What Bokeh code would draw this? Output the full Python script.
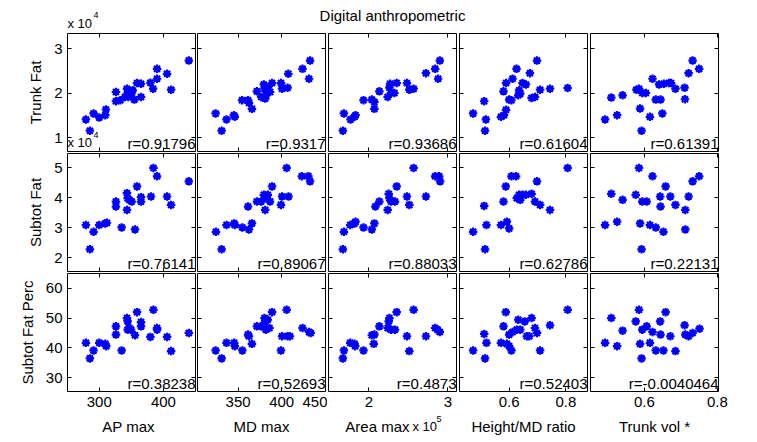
from bokeh.plotting import figure
from bokeh.models import (Range1d, LinearAxis, FixedTicker, CustomJSTickFormatter,
                          Label, ColumnDataSource)
from bokeh.layouts import gridplot, column
from bokeh.embed import file_html
from bokeh.resources import INLINE

# ---------------- data ----------------
title_text = "Digital anthropometric"
x_names = ["AP max", "MD max", "Area max", "Height/MD ratio", "Trunk vol *"]
y_names = ["Trunk Fat", "Subtot Fat", "Subtot Fat Perc"]
r_values = [[0.91796, 0.9317, 0.93686, 0.61604, 0.61391],
            [0.76141, 0.89067, 0.88033, 0.62786, 0.22131],
            [0.38238, 0.52693, 0.4873, 0.52403, -0.0040464]]
x_ticks = [[300, 400], [350, 400, 450], [200000, 300000], [0.6, 0.8], [0.6, 0.8]]
y_ticks = [[10000, 20000, 30000], [20000, 30000, 40000, 50000], [30, 40, 50, 60]]
x_tick_scale = [1, 1, 1e5, 1, 1]
y_tick_scale = [1e4, 1e4, 1]
x_limits = [(250.5, 450.0), (303.4, 450.3), (149000, 311000), (0.425, 0.876), (0.452, 0.803)]
y_limits = [(6860, 33420), (15500, 54800), (25.3, 65.0)]

# row 1: Trunk Fat
x_r1c1 = [279.2, 285.4, 291.1, 300.0, 309.4, 310.4, 326.0, 326.0, 332.8, 340.1, 343.2, 344.3, 345.3,
          349.5, 352.1, 354.7, 358.9, 365.1, 365.1, 379.7, 383.9, 390.1, 390.1, 405.7, 412.0, 439.6]
y_r1c1 = [14080, 11550, 15420, 14520, 15040, 16310, 20250, 18170, 18390, 19140, 21000, 20030, 19140,
          19730, 20620, 18540, 22260, 22110, 19140, 22340, 21000, 25460, 23230, 24350, 20770, 27320]
x_r1c2 = [324.2, 331.1, 336.7, 345.1, 346.2, 354.5, 361.4, 362.5, 365.9, 371.6, 376.5, 379.5, 380.3,
          381.1, 381.8, 384.1, 386.7, 389.0, 399.2, 400.4, 406.8, 407.6, 423.9, 431.4, 432.6]
y_r1c2 = [15420, 11550, 14080, 15040, 14670, 18390, 18390, 17800, 16460, 20400, 19140, 21960, 21000,
          18770, 19510, 21220, 20250, 22260, 22260, 21000, 21220, 24350, 25460, 23230, 27320]
x_r1c3 = [167200, 168500, 176900, 181900, 183200, 193300, 203800, 207100, 207100, 213400, 223900, 226100,
          226900, 228200, 232400, 235300, 248300, 251300, 256700, 272300, 284000, 287800, 289900]
y_r1c3 = [11550, 15420, 14080, 14670, 15040, 18390, 18540, 18020, 16460, 20400, 19140, 21220,
          22110, 20030, 20030, 22260, 22260, 20770, 21000, 24490, 25460, 23230, 27320]
x_r1c4 = [0.473, 0.512, 0.518, 0.515, 0.571, 0.582, 0.589, 0.580, 0.589, 0.600, 0.608, 0.612, 0.626,
          0.632, 0.635, 0.639, 0.647, 0.659, 0.673, 0.679, 0.691, 0.698, 0.709, 0.744, 0.806]
y_r1c4 = [15420, 18170, 14080, 11550, 14670, 15040, 16250, 20400, 22260, 18540, 18390, 23230, 25460,
          19510, 20620, 19880, 22260, 21960, 24490, 18910, 19140, 27320, 20770, 21000, 21150]
x_r1c5 = [0.492, 0.509, 0.525, 0.540, 0.578, 0.585, 0.588, 0.594, 0.604, 0.592, 0.615, 0.622, 0.631,
          0.640, 0.644, 0.649, 0.653, 0.667, 0.673, 0.685, 0.710, 0.711, 0.721, 0.732, 0.750]
y_r1c5 = [14080, 18990, 15040, 19510, 20770, 21000, 16530, 20030, 20030, 11550, 14670, 23230, 18540,
          21960, 18540, 15420, 22110, 22260, 22260, 21000, 21220, 18620, 24490, 27320, 25460]

# row 2: Subtot Fat
x_r2c1 = [279.2, 285.4, 291.1, 300.0, 309.4, 312.0, 326.0, 326.0, 334.9, 343.2, 344.3, 343.2,
          346.9, 350.5, 355.7, 358.9, 365.1, 365.1, 380.7, 384.4, 390.1, 405.7, 412.0, 439.6]
y_r2c1 = [30960, 22900, 28720, 30960, 31520, 31740, 38800, 37120, 30180, 41600, 39920, 36000,
          39360, 38800, 29510, 43840, 40260, 38800, 40480, 50000, 47200, 40480, 37680, 45520]
x_r2c2 = [324.6, 331.1, 336.7, 345.5, 346.2, 354.9, 361.4, 362.5, 365.9, 371.6, 376.5, 379.5,
          381.1, 381.8, 384.1, 386.7, 389.0, 399.2, 400.4, 405.7, 407.9, 423.1, 430.7, 432.6]
y_r2c2 = [28720, 22900, 30960, 31520, 30960, 30180, 37120, 29510, 31520, 38800, 38800, 41040,
          36000, 39920, 41040, 38800, 43840, 37680, 40480, 50000, 40480, 47200, 47200, 45520]
x_r2c3 = [167200, 168500, 176500, 181900, 183200, 193300, 203800, 207100, 208400, 213400, 223900, 225200,
          226100, 228200, 233200, 235300, 248300, 251300, 256700, 272300, 284000, 289100, 290300]
y_r2c3 = [22900, 28720, 30960, 31520, 32080, 30180, 29510, 31520, 37120, 38800, 36000, 41380,
          39920, 38800, 38800, 43840, 40480, 37680, 50000, 40480, 47200, 47200, 45520]
x_r2c4 = [0.473, 0.512, 0.515, 0.520, 0.571, 0.580, 0.588, 0.592, 0.600, 0.608, 0.624,
          0.627, 0.635, 0.639, 0.647, 0.659, 0.679, 0.691, 0.698, 0.709, 0.744, 0.806]
y_r2c4 = [28720, 37350, 22900, 30960, 30960, 38800, 43840, 32080, 29840, 47200, 47200,
          39920, 41040, 39360, 41040, 41040, 41380, 38800, 45520, 37680, 36000, 50000]
x_r2c5 = [0.492, 0.509, 0.525, 0.540, 0.576, 0.585, 0.588, 0.594, 0.606, 0.592, 0.615, 0.622,
          0.631, 0.643, 0.644, 0.652, 0.658, 0.671, 0.685, 0.712, 0.712, 0.721, 0.732, 0.750]
y_r2c5 = [30960, 41380, 32080, 39360, 41040, 50000, 31520, 38800, 38800, 22900, 30960, 47200,
          30180, 40480, 37120, 28720, 43840, 40480, 37680, 36000, 29510, 40480, 45520, 47200]

# row 3: Subtot Fat Perc
x_r3c1 = [279.2, 285.4, 291.1, 300.0, 309.4, 310.9, 326.0, 326.0, 334.9, 343.2, 344.3, 344.3, 346.9,
          349.5, 355.7, 358.9, 365.1, 365.1, 379.7, 384.4, 390.1, 390.1, 405.7, 412.0, 439.6]
y_r3c1 = [41.67, 36.44, 39.11, 41.67, 41.33, 40.56, 47.22, 44.44, 39.11, 50.0, 48.89, 46.11, 46.67,
          46.11, 44.22, 52.0, 48.67, 47.22, 43.67, 52.78, 46.11, 46.67, 43.67, 38.89, 45.0]
x_r3c2 = [324.2, 331.1, 336.7, 345.5, 346.2, 354.9, 361.4, 362.5, 365.9, 371.6, 376.5, 380.3, 381.1,
          381.8, 384.1, 386.0, 389.0, 399.2, 400.4, 405.7, 406.8, 409.5, 423.9, 431.4, 433.3]
y_r3c2 = [39.11, 36.44, 41.67, 41.67, 40.56, 39.11, 44.44, 43.89, 41.33, 47.22, 47.22, 50.0, 48.89,
          46.11, 49.44, 46.67, 52.0, 39.11, 43.89, 52.78, 43.89, 43.89, 46.67, 45.33, 45.0]
x_r3c3 = [167200, 168500, 176500, 181900, 182800, 193300, 203800, 207100, 206300, 213400, 223900, 225200,
          226100, 228200, 233200, 235300, 248300, 251300, 256700, 272300, 284000, 287000, 289900]
y_r3c3 = [36.44, 39.11, 41.67, 41.33, 40.56, 39.11, 44.22, 44.44, 41.33, 47.22, 46.67, 48.89,
          50.0, 46.11, 46.11, 52.0, 43.89, 38.89, 52.78, 43.89, 46.67, 46.11, 45.33]
x_r3c4 = [0.473, 0.512, 0.515, 0.520, 0.571, 0.580, 0.588, 0.592, 0.600, 0.608, 0.600, 0.612,
          0.627, 0.632, 0.639, 0.655, 0.662, 0.671, 0.679, 0.691, 0.698, 0.709, 0.744, 0.806]
y_r3c4 = [39.11, 44.67, 36.44, 41.67, 41.67, 47.22, 52.0, 41.33, 40.56, 39.11, 44.44, 45.33,
          46.11, 49.44, 46.11, 48.89, 43.89, 43.89, 50.0, 46.67, 45.0, 39.11, 47.56, 52.78]
x_r3c5 = [0.492, 0.509, 0.525, 0.540, 0.576, 0.585, 0.588, 0.592, 0.594, 0.606, 0.615, 0.622,
          0.631, 0.643, 0.644, 0.652, 0.658, 0.671, 0.685, 0.710, 0.712, 0.721, 0.732, 0.751]
y_r3c5 = [41.67, 50.0, 40.56, 45.78, 48.89, 52.78, 41.33, 36.44, 46.11, 47.22, 41.67, 45.33,
          39.11, 48.89, 44.44, 39.11, 52.0, 43.89, 38.89, 47.56, 44.44, 43.89, 45.0, 46.44]

panel_x = [[x_r1c1, x_r1c2, x_r1c3, x_r1c4, x_r1c5],
           [x_r2c1, x_r2c2, x_r2c3, x_r2c4, x_r2c5],
           [x_r3c1, x_r3c2, x_r3c3, x_r3c4, x_r3c5]]
panel_y = [[y_r1c1, y_r1c2, y_r1c3, y_r1c4, y_r1c5],
           [y_r2c1, y_r2c2, y_r2c3, y_r2c4, y_r2c5],
           [y_r3c1, y_r3c2, y_r3c3, y_r3c4, y_r3c5]]

# ---------------- style / layout ----------------
FONT = "Liberation Sans"
FRAME_W, FRAME_H = 128, 118
left_b = [67, 1, 1, 2, 2]
right_b = [1, 2, 1, 1, 15]
top_b = [0, 1, 1]
bot_b = [1, 1, 23]
HEADER_H, FOOTER_H = 33, 26
MARK = "#0000ff"
TOTAL_W = sum(left_b) + sum(right_b) + 5 * FRAME_W


def make_axis(ticks, scale, show, **extra):
    if show:
        code = "return String(Math.round(tick / scale * 10000) / 10000);"
    else:
        code = "return '';"
    fmt = CustomJSTickFormatter(args=dict(scale=scale), code=code)
    return LinearAxis(ticker=FixedTicker(ticks=ticks), formatter=fmt,
                      axis_line_color=None, major_tick_in=4, major_tick_out=0,
                      major_tick_line_color="black", major_tick_line_width=1,
                      minor_tick_line_color=None,
                      major_label_text_font=FONT, major_label_text_color="black",
                      major_label_text_font_size="15px" if show else "1px",
                      major_label_standoff=5 if show else 0, **extra)


def screen_label(p, text, x, y, size, align="left", baseline="middle"):
    p.add_layout(Label(x=x, y=y, x_units="screen", y_units="screen", text=text,
                       text_font=FONT, text_font_size=size, text_color="black",
                       text_align=align, text_baseline=baseline))


def data_label(p, text, x, y, size, align="left", baseline="bottom"):
    p.add_layout(Label(x=x, y=y, text=text,
                       text_font=FONT, text_font_size=size, text_color="black",
                       text_align=align, text_baseline=baseline))


rows = []
for r in range(3):
    row_figs = []
    for c in range(5):
        x0, x1 = x_limits[c]
        y0, y1 = y_limits[r]
        p = figure(width=left_b[c] + FRAME_W + right_b[c],
                   height=top_b[r] + FRAME_H + bot_b[r],
                   x_range=Range1d(x0, x1), y_range=Range1d(y0, y1),
                   x_axis_type=None, y_axis_type=None,
                   min_border_left=left_b[c], min_border_right=right_b[c],
                   min_border_top=top_b[r], min_border_bottom=bot_b[r],
                   output_backend="svg", toolbar_location=None, tools="",
                   background_fill_color="white", border_fill_color="white",
                   outline_line_color="black", outline_line_width=1)
        left_kw = {}
        if c == 0:
            left_kw = dict(axis_label=y_names[r], axis_label_text_font=FONT,
                           axis_label_text_font_size="15px", axis_label_text_font_style="normal",
                           axis_label_text_color="black", axis_label_standoff=7)
        p.add_layout(make_axis(y_ticks[r], y_tick_scale[r], c == 0, **left_kw), "left")
        p.add_layout(make_axis(y_ticks[r], y_tick_scale[r], False), "right")
        p.add_layout(make_axis(x_ticks[c], x_tick_scale[c], r == 2), "below")
        p.add_layout(make_axis(x_ticks[c], x_tick_scale[c], False), "above")

        src = ColumnDataSource(dict(x=panel_x[r][c], y=panel_y[r][c]))
        p.scatter("x", "y", source=src, marker="circle", size=6,
                  fill_color=MARK, line_color=None)
        p.scatter("x", "y", source=src, marker="asterisk", size=8.5,
                  line_color=MARK, line_width=2.2)

        data_label(p, "r=" + str(r_values[r][c]), x1, y0, "15px", align="right")

        if r == 0 and c == 0:
            # exponent belonging to the second row's y axis
            px_x = (x1 - x0) / FRAME_W
            px_y = (y1 - y0) / FRAME_H
            data_label(p, "x 10", x0, y0 + 1.5 * px_y, "13px")
            data_label(p, "4", x0 + 26 * px_x, y0 + 14 * px_y, "9px")
        row_figs.append(p)
    rows.append(row_figs)


def blank(height):
    b = figure(width=TOTAL_W, height=height, x_range=Range1d(0, 1), y_range=Range1d(0, 1),
               x_axis_type=None, y_axis_type=None, min_border=0,
               min_border_left=0, min_border_right=0, min_border_top=0, min_border_bottom=0,
               output_backend="svg", toolbar_location=None, tools="",
               outline_line_color=None, background_fill_color="white",
               border_fill_color="white")
    return b


header = blank(HEADER_H)
screen_label(header, title_text, 392, HEADER_H - 15.4, "15px", align="center")
screen_label(header, "x 10", 67, HEADER_H - 23, "13px")
screen_label(header, "4", 93, HEADER_H - 14, "9px")

footer = blank(FOOTER_H)
frame_lefts = []
acc = 0
for c in range(5):
    frame_lefts.append(acc + left_b[c])
    acc += left_b[c] + FRAME_W + right_b[c]
label_y = FOOTER_H - 11.8
for c in range(5):
    if c == 2:
        screen_label(footer, x_names[c], frame_lefts[c] + 81, label_y, "15px", align="right")
        screen_label(footer, "x 10", frame_lefts[c] + 84, label_y - 0.5, "13px")
        screen_label(footer, "5", frame_lefts[c] + 108, FOOTER_H - 4, "9px")
    else:
        cx = frame_lefts[c] + (61 if c == 0 else 64)
        screen_label(footer, x_names[c], cx, label_y, "15px", align="center")

grid = gridplot(rows, toolbar_location=None)
layout = column(header, grid, footer)

open("out.html", "w").write(file_html(layout, INLINE))
